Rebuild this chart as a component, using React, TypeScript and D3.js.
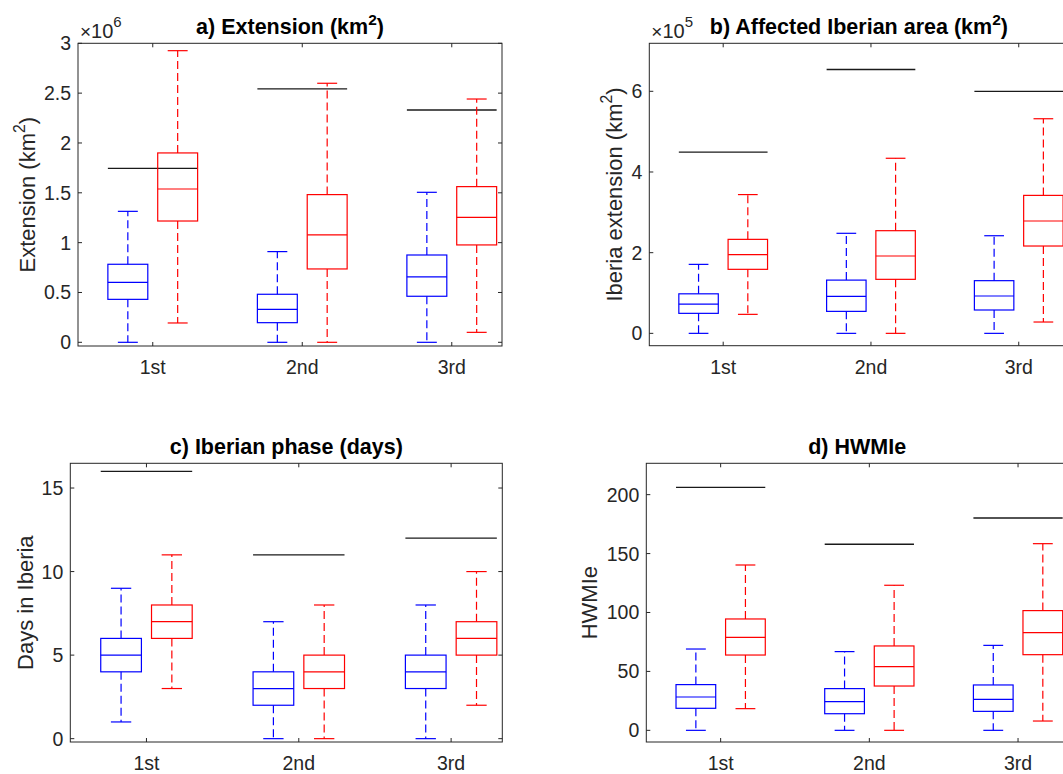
import React from 'react';
import * as d3 from 'd3';

// ---------- data ----------
const categories = ['1st', '2nd', '3rd'];

// Panel a: Extension (x10^6 km2) — [low, q1, median, q3, high]
const extBlue = [[0, 0.431, 0.602, 0.783, 1.314], [0, 0.197, 0.331, 0.482, 0.91], [0, 0.462, 0.656, 0.876, 1.505]];
const extRed = [[0.194, 1.217, 1.538, 1.9, 2.926], [0, 0.736, 1.077, 1.482, 2.599], [0.1, 0.977, 1.254, 1.562, 2.441]];
const extRef = [1.746, 2.542, 2.331];
const extTicks = [0, 0.5, 1, 1.5, 2, 2.5, 3];

// Panel b: Affected Iberian area (x10^5 km2)
const ibBlue = [[0, 0.496, 0.727, 0.98, 1.71], [0, 0.545, 0.917, 1.32, 2.48], [0, 0.579, 0.926, 1.306, 2.42]];
const ibRed = [[0.471, 1.587, 1.95, 2.33, 3.44], [0, 1.339, 1.917, 2.545, 4.34], [0.281, 2.165, 2.785, 3.42, 5.32]];
const ibRef = [4.49, 6.54, 6.0];
const ibTicks = [0, 2, 4, 6];

// Panel c: Iberian phase (days)
const dayBlue = [[1, 4, 5, 6, 9], [0, 2, 3, 4, 7], [0, 3, 4, 5, 8]];
const dayRed = [[3, 6, 7, 8, 11], [0, 3, 4, 5, 8], [2, 5, 6, 7, 10]];
const dayRef = [16, 11, 12];
const dayTicks = [0, 5, 10, 15];

// Panel d: HWMIe
const hwBlue = [[0, 18.7, 28.3, 38.8, 69.0], [0, 14.1, 24.3, 35.4, 66.8], [0, 16.1, 26.3, 38.5, 72.1]];
const hwRed = [[18.4, 63.9, 78.9, 94.5, 140.3], [0, 37.6, 54.0, 71.6, 123.1], [7.9, 64.2, 82.9, 101.6, 158.4]];
const hwRef = [206.2, 157.9, 180.2];
const hwTicks = [0, 50, 100, 150, 200];

// ---------- styling ----------
const FONT = '"Liberation Sans", Arial, Helvetica, sans-serif';
const AX = '#262626';
const BLUE = '#0000ff';
const RED = '#ff0000';
const SX = 1;
const TICK_FS = 19.5;
const LABEL_FS = 22;
const TITLE_FS = 21.5;

type PanelProps = {
  left: number; right: number; top: number; bottom: number;
  ydom: [number, number];
  ticks: number[];
  blue: number[][]; red: number[][]; refs: number[];
  title: React.ReactNode; ylabel: React.ReactNode; ylabelX: number;
  exponent?: string;
};

function SText({ x, y, anchor = 'middle', fs, weight = 'normal', children, fill = AX }: any) {
  return (
    <g transform={`translate(${x},${y}) scale(${SX},1)`}>
      <text textAnchor={anchor} fontSize={fs} fontWeight={weight} fill={fill} fontFamily={FONT}>{children}</text>
    </g>
  );
}

function BoxGlyph({ x, s, w, color, y }: { x: number; s: number[]; w: number; color: string; y: (v: number) => number }) {
  const [lo, q1, med, q3, hi] = s;
  const cw = w / 2;
  return (
    <g stroke={color} strokeWidth={1.2} fill="none">
      <line x1={x} x2={x} y1={y(q3)} y2={y(hi)} strokeDasharray="8,4" />
      <line x1={x} x2={x} y1={y(q1)} y2={y(lo)} strokeDasharray="8,4" />
      <line x1={x - cw / 2} x2={x + cw / 2} y1={y(hi)} y2={y(hi)} />
      <line x1={x - cw / 2} x2={x + cw / 2} y1={y(lo)} y2={y(lo)} />
      <rect x={x - w / 2} y={y(q3)} width={w} height={y(q1) - y(q3)} />
      <line x1={x - w / 2} x2={x + w / 2} y1={y(med)} y2={y(med)} />
    </g>
  );
}

function Panel(p: PanelProps) {
  const x = d3.scaleLinear().domain([0.5, 3.336]).range([p.left, p.right]);
  const y = d3.scaleLinear().domain(p.ydom).range([p.bottom, p.top]);
  const off = 1 / 6;
  const bw = 0.267;
  const bwPx = x(bw) - x(0);
  const tl = 4;
  const fmt = (v: number) => String(v);
  return (
    <g>
      {categories.map((c, i) => (
        <g key={c}>
          <line x1={x(i + 1 - off - bw / 2)} x2={x(i + 1 + off + bw / 2)} y1={y(p.refs[i])} y2={y(p.refs[i])} stroke="#1a1a1a" strokeWidth={1.3} />
          <BoxGlyph x={x(i + 1 - off)} s={p.blue[i]} w={bwPx} color={BLUE} y={y} />
          <BoxGlyph x={x(i + 1 + off)} s={p.red[i]} w={bwPx} color={RED} y={y} />
        </g>
      ))}
      {/* axes box */}
      <rect x={p.left} y={p.top} width={p.right - p.left} height={p.bottom - p.top} fill="none" stroke={AX} strokeWidth={1} />
      {/* x ticks */}
      {categories.map((c, i) => (
        <g key={'xt' + c}>
          <line x1={x(i + 1)} x2={x(i + 1)} y1={p.bottom} y2={p.bottom - tl} stroke={AX} />
          <line x1={x(i + 1)} x2={x(i + 1)} y1={p.top} y2={p.top + tl} stroke={AX} />
          <SText x={x(i + 1)} y={p.bottom + 28} fs={TICK_FS}>{c}</SText>
        </g>
      ))}
      {/* y ticks */}
      {p.ticks.map((t) => (
        <g key={'yt' + t}>
          <line x1={p.left} x2={p.left + tl} y1={y(t)} y2={y(t)} stroke={AX} />
          <line x1={p.right} x2={p.right - tl} y1={y(t)} y2={y(t)} stroke={AX} />
          <SText x={p.left - 7} y={y(t) + 7} fs={TICK_FS} anchor="end">{fmt(t)}</SText>
        </g>
      ))}
      {/* exponent */}
      {p.exponent && (
        <g transform={`translate(${p.left + 2},${p.top - 5}) scale(${SX},1)`}>
          <text fontFamily={FONT} fill={AX} fontSize={20}>
            <tspan fontSize={19}>×</tspan>10<tspan fontSize={15} dy={-11}>{p.exponent}</tspan>
          </text>
        </g>
      )}
      {/* title */}
      <SText x={(p.left + p.right) / 2} y={p.top - 9} fs={TITLE_FS} weight="bold" fill="#000">{p.title}</SText>
      {/* y label */}
      <text transform={`translate(${p.ylabelX},${(p.top + p.bottom) / 2}) rotate(-90)`} textAnchor="middle" fontFamily={FONT} fontSize={LABEL_FS} fill={AX}>{p.ylabel}</text>
    </g>
  );
}

const sup = (s: string, fs: number) => (
  <>
    <tspan fontSize={fs * 0.72} dy={-fs * 0.45}>{s}</tspan>
    <tspan dy={fs * 0.45}>)</tspan>
  </>
);

export default function App() {
  return (
    <svg width={1063} height={774} style={{ position: 'absolute', left: 0, top: 0, background: '#fff' }}>
      <rect width={1063} height={774} fill="#fff" />
      <Panel left={78} right={502} top={43.3} bottom={346} ydom={[-0.037, 3]} ticks={extTicks}
        blue={extBlue} red={extRed} refs={extRef} exponent="6" ylabelX={35}
        title={<>a) Extension (km{sup('2', TITLE_FS)}</>}
        ylabel={<>Extension (km{sup('2', LABEL_FS)}</>} />
      <Panel left={649.3} right={1068.4} top={43.3} bottom={345.7} ydom={[-0.306, 7.19]} ticks={ibTicks}
        blue={ibBlue} red={ibRed} refs={ibRef} exponent="5" ylabelX={621.5}
        title={<>b) Affected Iberian area (km{sup('2', TITLE_FS)}</>}
        ylabel={<>Iberia extension (km{sup('2', LABEL_FS)}</>} />
      <Panel left={70.3} right={502.3} top={463.3} bottom={742} ydom={[-0.2, 16.48]} ticks={dayTicks}
        blue={dayBlue} red={dayRed} refs={dayRef} ylabelX={32.5}
        title={<>c) Iberian phase (days)</>}
        ylabel={<>Days in Iberia</>} />
      <Panel left={646.3} right={1068} top={463.3} bottom={742} ydom={[-9.9, 226.6]} ticks={hwTicks}
        blue={hwBlue} red={hwRed} refs={hwRef} ylabelX={596.5}
        title={<>d) HWMIe</>}
        ylabel={<>HWMIe</>} />
    </svg>
  );
}
